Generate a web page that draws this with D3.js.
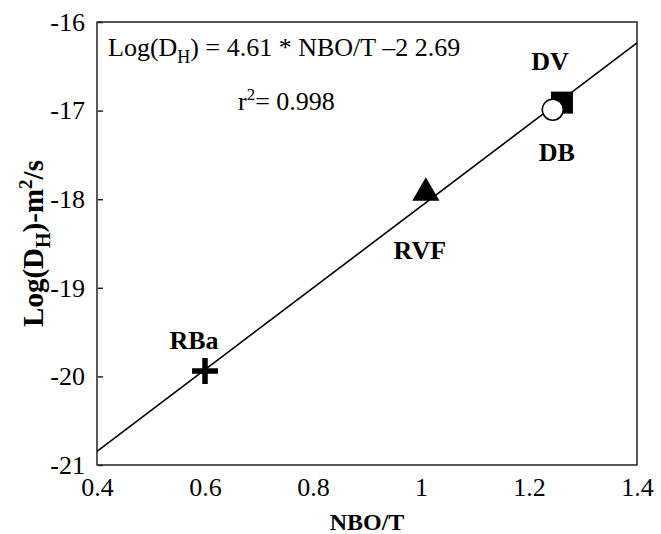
<!DOCTYPE html>
<html>
<head>
<meta charset="utf-8">
<script src="https://cdn.jsdelivr.net/npm/d3@7"></script>
<style>
  html, body { margin: 0; padding: 0; background: #fff; }
  svg { display: block; }
  text { font-family: "Liberation Serif", "Times New Roman", serif; fill: #000; }
</style>
</head>
<body>
<svg id="chart" width="661" height="534"></svg>
<script>
// ---- data ----
const xTicks = [0.4, 0.6, 0.8, 1.0, 1.2, 1.4];
const xTickLabels = ["0.4", "0.6", "0.8", "1", "1.2", "1.4"];
const yTicks = [-21, -20, -19, -18, -17, -16];
const yTickLabels = ["-21", "-20", "-19", "-18", "-17", "-16"];
const samples = ["RBa", "RVF", "DV", "DB"];
const nboT = [0.6, 1.009, 1.261, 1.244];
const logDH = [-19.94, -17.93, -16.91, -16.99];
const markerShapes = ["cross", "triangle", "square", "circle"];
const fitSlope = 4.61;
const fitIntercept = -22.69;
const equationText = ") = 4.61 * NBO/T \u20132 2.69";
const r2Text = "= 0.998";

// ---- layout ----
const W = 661, H = 534;
const margin = { top: 22, right: 24, bottom: 69, left: 97 };
const svg = d3.select("#chart");
const x = d3.scaleLinear().domain([0.4, 1.4]).range([margin.left, W - margin.right]);
const y = d3.scaleLinear().domain([-21, -16]).range([H - margin.bottom, margin.top]);

// frame
svg.append("rect")
  .attr("x", x(0.4)).attr("y", y(-16))
  .attr("width", x(1.4) - x(0.4)).attr("height", y(-21) - y(-16))
  .attr("fill", "none").attr("stroke", "#222").attr("stroke-width", 1.5);

// y axis (ticks inward)
const yAxis = d3.axisLeft(y).tickValues(yTicks)
  .tickFormat((d, i) => yTickLabels[i]).tickSizeInner(-6).tickSizeOuter(0).tickPadding(12);
const gy = svg.append("g").attr("transform", `translate(${x(0.4)},0)`).call(yAxis);
gy.select(".domain").remove();
gy.selectAll(".tick line").attr("stroke", "#222").attr("stroke-width", 1.5).attr("x1", 1);
gy.selectAll(".tick text").attr("font-size", 26).attr("font-family", "Liberation Serif").attr("fill", "#000");

// x axis
const xAxis = d3.axisBottom(x).tickValues(xTicks)
  .tickFormat((d, i) => xTickLabels[i]).tickSize(0).tickPadding(13);
const gx = svg.append("g").attr("transform", `translate(0,${y(-21)})`).call(xAxis);
gx.select(".domain").remove();
gx.selectAll(".tick text").attr("font-size", 26).attr("font-family", "Liberation Serif").attr("fill", "#000");

// fit line
const lineX = [0.4, 1.4];
svg.append("path")
  .datum(lineX.map(v => [v, fitSlope * v + fitIntercept]))
  .attr("d", d3.line().x(d => x(d[0])).y(d => y(d[1])))
  .attr("fill", "none").attr("stroke", "#000").attr("stroke-width", 1.6);

// markers
const g = svg.append("g");
samples.forEach((s, i) => {
  const cx = x(nboT[i]), cy = y(logDH[i]);
  const shape = markerShapes[i];
  if (shape === "cross") {
    g.append("path")
      .attr("d", `M${cx - 13},${cy}H${cx + 13}M${cx},${cy - 13}V${cy + 13}`)
      .attr("stroke", "#000").attr("stroke-width", 5.5);
  } else if (shape === "triangle") {
    g.append("path")
      .attr("d", d3.symbol().type(d3.symbolTriangle).size(320)())
      .attr("transform", `translate(${cx},${cy})`)
      .attr("fill", "#000");
  } else if (shape === "square") {
    g.append("rect").attr("x", cx - 11).attr("y", cy - 11)
      .attr("width", 22).attr("height", 22).attr("fill", "#000");
  } else if (shape === "circle") {
    g.append("circle").attr("cx", cx).attr("cy", cy).attr("r", 10.5)
      .attr("fill", "#fff").attr("stroke", "#000").attr("stroke-width", 1.5);
  }
});

// sample labels
const labelOffsets = { RBa: [-11, -22], RVF: [-6, 66], DV: [-12, -33], DB: [4, 51] };
samples.forEach((s, i) => {
  svg.append("text")
    .attr("x", x(nboT[i]) + labelOffsets[s][0])
    .attr("y", y(logDH[i]) + labelOffsets[s][1])
    .attr("text-anchor", "middle")
    .attr("font-size", 26).attr("font-weight", "bold")
    .text(s);
});

// equation
const eq = svg.append("text").attr("x", 108).attr("y", 56).attr("font-size", 26);
eq.append("tspan").text("Log(D");
eq.append("tspan").attr("dy", 7).attr("font-size", 18).text("H");
eq.append("tspan").attr("dy", -7).text(equationText);

const r2 = svg.append("text").attr("x", 238).attr("y", 110).attr("font-size", 26);
r2.append("tspan").text("r");
r2.append("tspan").attr("dy", -10).attr("font-size", 17).text("2");
r2.append("tspan").attr("dy", 10).text(r2Text);

// axis titles
svg.append("text")
  .attr("x", (x(0.4) + x(1.4)) / 2).attr("y", 530)
  .attr("text-anchor", "middle").attr("font-size", 24).attr("font-weight", "bold")
  .text("NBO/T");

const yt = svg.append("text")
  .attr("transform", `translate(43,${(y(-16) + y(-21)) / 2}) rotate(-90)`)
  .attr("text-anchor", "middle").attr("font-size", 29).attr("font-weight", "bold");
yt.append("tspan").text("Log(D");
yt.append("tspan").attr("dy", 7).attr("font-size", 20).text("H");
yt.append("tspan").attr("dy", -7).text(")-m");
yt.append("tspan").attr("dy", -11).attr("font-size", 19).text("2");
yt.append("tspan").attr("dy", 11).text("/s");
</script>
</body>
</html>
